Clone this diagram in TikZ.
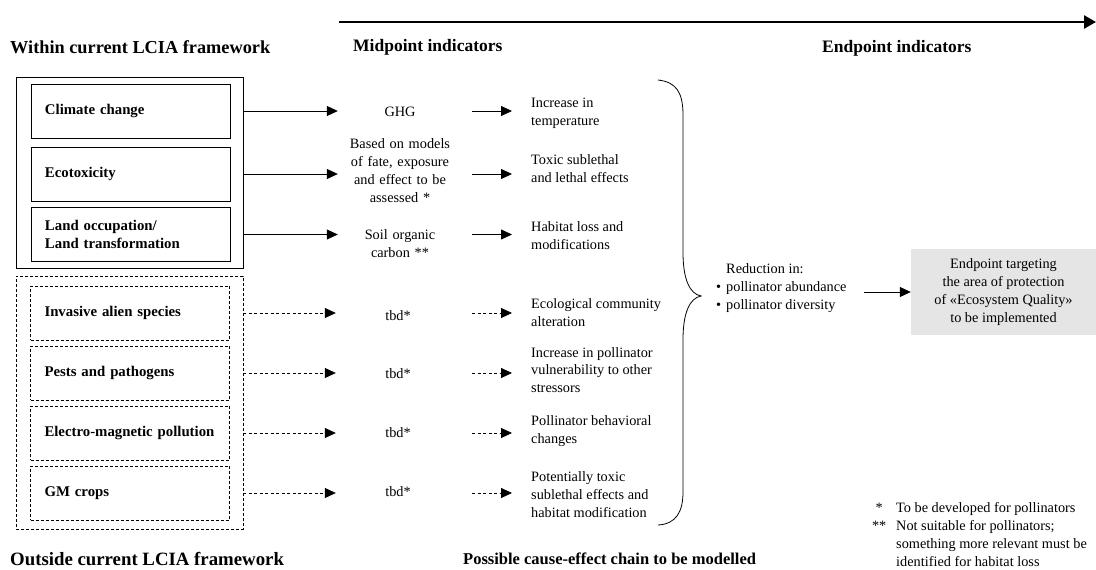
\documentclass[tikz,border=0pt]{standalone}
\usepackage{fontspec}
\setmainfont{Liberation Serif}
\usetikzlibrary{arrows.meta}
\begin{document}
\begin{tikzpicture}[x=1pt,y=-1pt,
  txt/.style={font=\fontsize{14.3}{17.8}\selectfont, inner sep=0},
  head/.style={font=\fontsize{17.5}{20}\selectfont\bfseries, anchor=west, inner sep=0},
  src/.style={draw, line width=0.8pt, minimum height=54, text width=171, inner xsep=14, inner ysep=0, align=left, font=\fontsize{14.8}{17.8}\selectfont\bfseries},
  dsrc/.style={src, dash pattern=on 3pt off 2pt},
  frame/.style={draw, line width=0.8pt, minimum width=227, inner sep=0},
  mid/.style={txt, text width=110, inner xsep=7, align=center},
  eff/.style={txt, anchor=west, inner xsep=19, align=left},
  arr/.style={line width=0.8pt, -{Triangle[length=11pt,width=10pt]}},
  darr/.style={arr, dash pattern=on 3pt off 2.5pt},
]
\useasboundingbox (0,0) rectangle (1096,570);

% top arrow
\coordinate (ts) at (339,22);
\coordinate (te) at (1096,22);
\draw[line width=2.5pt, -{Triangle[length=12pt,width=13pt]}] (ts) -- (te);

% headings
\node[head, font=\fontsize{18.3}{20}\selectfont\bfseries] (h1) at (10,47) {Within current LCIA framework};
\node[head] (h2) at (353,47) {Midpoint indicators};
\node[head] (h3) at (822,48) {Endpoint indicators};
\node[head, font=\fontsize{18.8}{20}\selectfont\bfseries] (h4) at (10,559) {Outside current LCIA framework};
\node[head, font=\fontsize{16.5}{18}\selectfont\bfseries] (h5) at (463,559) {Possible cause-effect chain to be modelled};

% frames
\node[frame, minimum height=191] (inside) at (129.5,172.5) {};
\node[frame, minimum height=253, dash pattern=on 3pt off 2pt] (outside) at (129.5,402.5) {};

% source boxes
\node[src] (cc) at (130.5,111) {Climate change};
\node[src] (eco) at (130.5,174) {Ecotoxicity};
\node[src] (land) at (130.5,234.5) {Land occupation/\\Land transformation};
\node[dsrc] (ias) at (130,313) {Invasive alien species};
\node[dsrc] (pp) at (130,373) {Pests and pathogens};
\node[dsrc] (emp) at (130,433) {Electro-magnetic pollution};
\node[dsrc] (gm) at (130,493) {GM crops};

% midpoint nodes
\node[mid] (ghg) at (400,112) {GHG};
\node[mid] (mod) at (400,170.5) {Based on models\\of fate, exposure\\and effect to be\\assessed *};
\node[mid] (soc) at (400,243.5) {Soil organic\\carbon **};
\node[mid] (t1) at (398,316) {tbd*};
\node[mid] (t2) at (398,374) {tbd*};
\node[mid] (t3) at (398,433) {tbd*};
\node[mid] (t4) at (398,492) {tbd*};

% effect nodes
\node[eff] (e1) at (512,113) {Increase in\\temperature};
\node[eff] (e2) at (512,169) {Toxic sublethal\\and lethal effects};
\node[eff] (e3) at (512,235.5) {Habitat loss and\\modifications};
\node[eff] (e4) at (512,312.5) {Ecological community\\alteration};
\node[eff] (e5) at (512,370) {Increase in pollinator\\vulnerability to other\\stressors};
\node[eff] (e6) at (512,431) {Pollinator behavioral\\changes};
\node[eff] (e7) at (512,494.5) {Potentially toxic\\sublethal effects and\\habitat modification};

% first arrows
\draw[arr] (inside.east |- cc) -- (ghg.west |- cc);
\draw[arr] (inside.east |- eco) -- (mod.west |- eco);
\draw[arr] (inside.east |- land) -- (soc.west |- land);
\draw[darr] (outside.east |- ias) -- (t1.west |- ias);
\draw[darr] (outside.east |- pp) -- (t2.west |- pp);
\draw[darr] (outside.east |- emp) -- (t3.west |- emp);
\draw[darr] (outside.east |- gm) -- (t4.west |- gm);

% second arrows
\draw[arr, shorten <=10pt] (ghg.east |- cc) -- (e1.west |- cc);
\draw[arr, shorten <=10pt] (mod.east |- eco) -- (e2.west |- eco);
\draw[arr, shorten <=10pt] (soc.east |- land) -- (e3.west |- land);
\draw[darr, shorten <=12pt] (t1.east |- ias) -- (e4.west |- ias);
\draw[darr, shorten <=12pt] (t2.east |- pp) -- (e5.west |- pp);
\draw[darr, shorten <=12pt] (t3.east |- emp) -- (e6.west |- emp);
\draw[darr, shorten <=12pt] (t4.east |- gm) -- (e7.west |- gm);

% brace
\draw[line width=0.8pt] (658,80) .. controls (676,82) and (683,92) .. (683,115)
  -- (683,252) .. controls (683,280) and (690,294) .. (701,296)
  .. controls (690,298) and (683,312) .. (683,340)
  -- (683,492) .. controls (683,512) and (676,524) .. (658,525);

% reduction
\node[txt, anchor=west] (red) at (716,288) {\begin{tabular}{@{}l@{\hspace{5pt}}l@{}} & Reduction in:\\ \textbullet & pollinator abundance\\ \textbullet & pollinator diversity\end{tabular}};

% endpoint box
\node[txt, fill=gray!20, minimum width=185, minimum height=86, align=center] (ep) at (1003.5,292) {Endpoint targeting\\the area of protection\\of «Ecosystem Quality»\\to be implemented};
\draw[arr, shorten <=17pt] (red.east |- ep.west) -- (ep.west);

% footnotes
\node[txt, anchor=west] (fn) at (872,536) {\begin{tabular}{@{}l@{\hspace{10pt}}l@{}} \makebox[14pt][c]{*} & To be developed for pollinators\\[0pt] \makebox[14pt][c]{**} & Not suitable for pollinators;\\[0pt] & something more relevant must be\\[0pt] & identified for habitat loss\end{tabular}};
\end{tikzpicture}
\end{document}
